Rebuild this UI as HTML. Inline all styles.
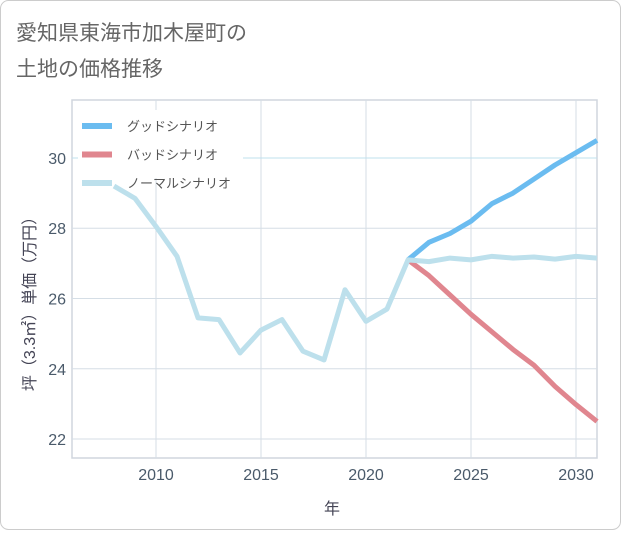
<!DOCTYPE html>
<html><head><meta charset="utf-8"><style>
body{margin:0;background:#fff;}
#wrap{position:relative;width:621px;height:530px;font-family:"Liberation Sans","Noto Sans CJK JP",sans-serif;}
</style></head><body>
<div id="wrap">
<svg id="chart" width="621" height="530" xmlns="http://www.w3.org/2000/svg">
<rect x="0.5" y="0.5" width="620" height="529" rx="8" fill="#fff" stroke="#ccc"/>
<text x="16" y="40" font-size="21" fill="#666">愛知県東海市加木屋町の</text>
<text x="16" y="76" font-size="21" fill="#666">土地の価格推移</text>
<g id="grid"></g>
<g id="legend"></g>
<g id="series"></g>
<g id="legend2"></g>
<text x="332" y="514" font-size="16" fill="#445" text-anchor="middle">年</text>
<text transform="translate(35,300) rotate(-90)" font-size="16" fill="#445" text-anchor="middle">坪（3.3㎡）単価（万円）</text>
</svg>
</div>
<script>
const years=[2008,2009,2010,2011,2012,2013,2014,2015,2016,2017,2018,2019,2020,2021,2022,2023,2024,2025,2026,2027,2028,2029,2030,2031];
const normalValues=[29.2,28.85,28.05,27.2,25.45,25.4,24.45,25.1,25.4,24.5,24.25,26.25,25.35,25.7,27.1,27.05,27.15,27.1,27.2,27.15,27.18,27.12,27.2,27.15];
const futureYears=[2022,2023,2024,2025,2026,2027,2028,2029,2030,2031];
const goodValues=[27.1,27.6,27.85,28.2,28.7,29.0,29.4,29.8,30.15,30.5];
const badValues=[27.1,26.65,26.1,25.55,25.05,24.55,24.1,23.5,22.98,22.5];
const xTicks=[2010,2015,2020,2025,2030];
const yTicks=[22,24,26,28,30];
const L=72,R=597,T=100,B=458,x0=2006,x1=2031,y0=21.46,y1=31.65;
const X=v=>L+(v-x0)/(x1-x0)*(R-L);
const Y=v=>B-(v-y0)/(y1-y0)*(B-T);
const NS="http://www.w3.org/2000/svg";
function mk(p,t,a){const e=document.createElementNS(NS,t);for(const k in a)e.setAttribute(k,a[k]);p.appendChild(e);return e;}
const g=document.getElementById('grid');
const frame=mk(g,'rect',{x:L,y:T,width:R-L,height:B-T,fill:'none',stroke:'#d0d6de',"stroke-width":1.5});


xTicks.forEach(v=>{
 const l=mk(g,'line',{x1:X(v),x2:X(v),y1:T,y2:B,stroke:'#d5dee6'});
 
 
 const t=mk(g,'text',{x:X(v),y:B+22,"font-size":16,fill:'#4a5a6a',"text-anchor":'middle'});t.textContent=v;
 
 
});
yTicks.forEach(v=>{
 const l=mk(g,'line',{x1:L,x2:R,y1:Y(v),y2:Y(v),stroke:v==30?'#bfe0ee':'#d5dee6'});
 
 
 const t=mk(g,'text',{x:L-6,y:Y(v)+6,"font-size":16,fill:'#4a5a6a',"text-anchor":'end'});t.textContent=v;
 
 
});
const lgb=document.getElementById('legend');
const bg=mk(lgb,'rect',{x:78,y:110,width:165,height:68,fill:'#fff'});


const s=document.getElementById('series');
function line(xs,vs,c,n){const p=mk(s,'polyline',{points:xs.map((x,i)=>X(x)+','+Y(vs[i])).join(' '),fill:'none',stroke:c,"stroke-width":5,"stroke-linejoin":'round'});
 
 }
line(futureYears,goodValues,'#6bbcf0','good-scenario-line');
line(futureYears,badValues,'#e0868f','bad-scenario-line');
line(years,normalValues,'#bde0ec','normal-scenario-line');
const lg=document.getElementById('legend2');
[['グッドシナリオ','#6bbcf0'],['バッドシナリオ','#e0868f'],['ノーマルシナリオ','#bde0ec']].forEach((d,i)=>{
 const y=126+i*28.5;
 const r=mk(lg,'rect',{x:82,y:y-3,width:30,height:6,fill:d[1]});
 
 
 const t=mk(lg,'text',{x:127,y:y+5,"font-size":13,fill:'#555'});t.textContent=d[0];
 
 
});
</script>
</body></html>
